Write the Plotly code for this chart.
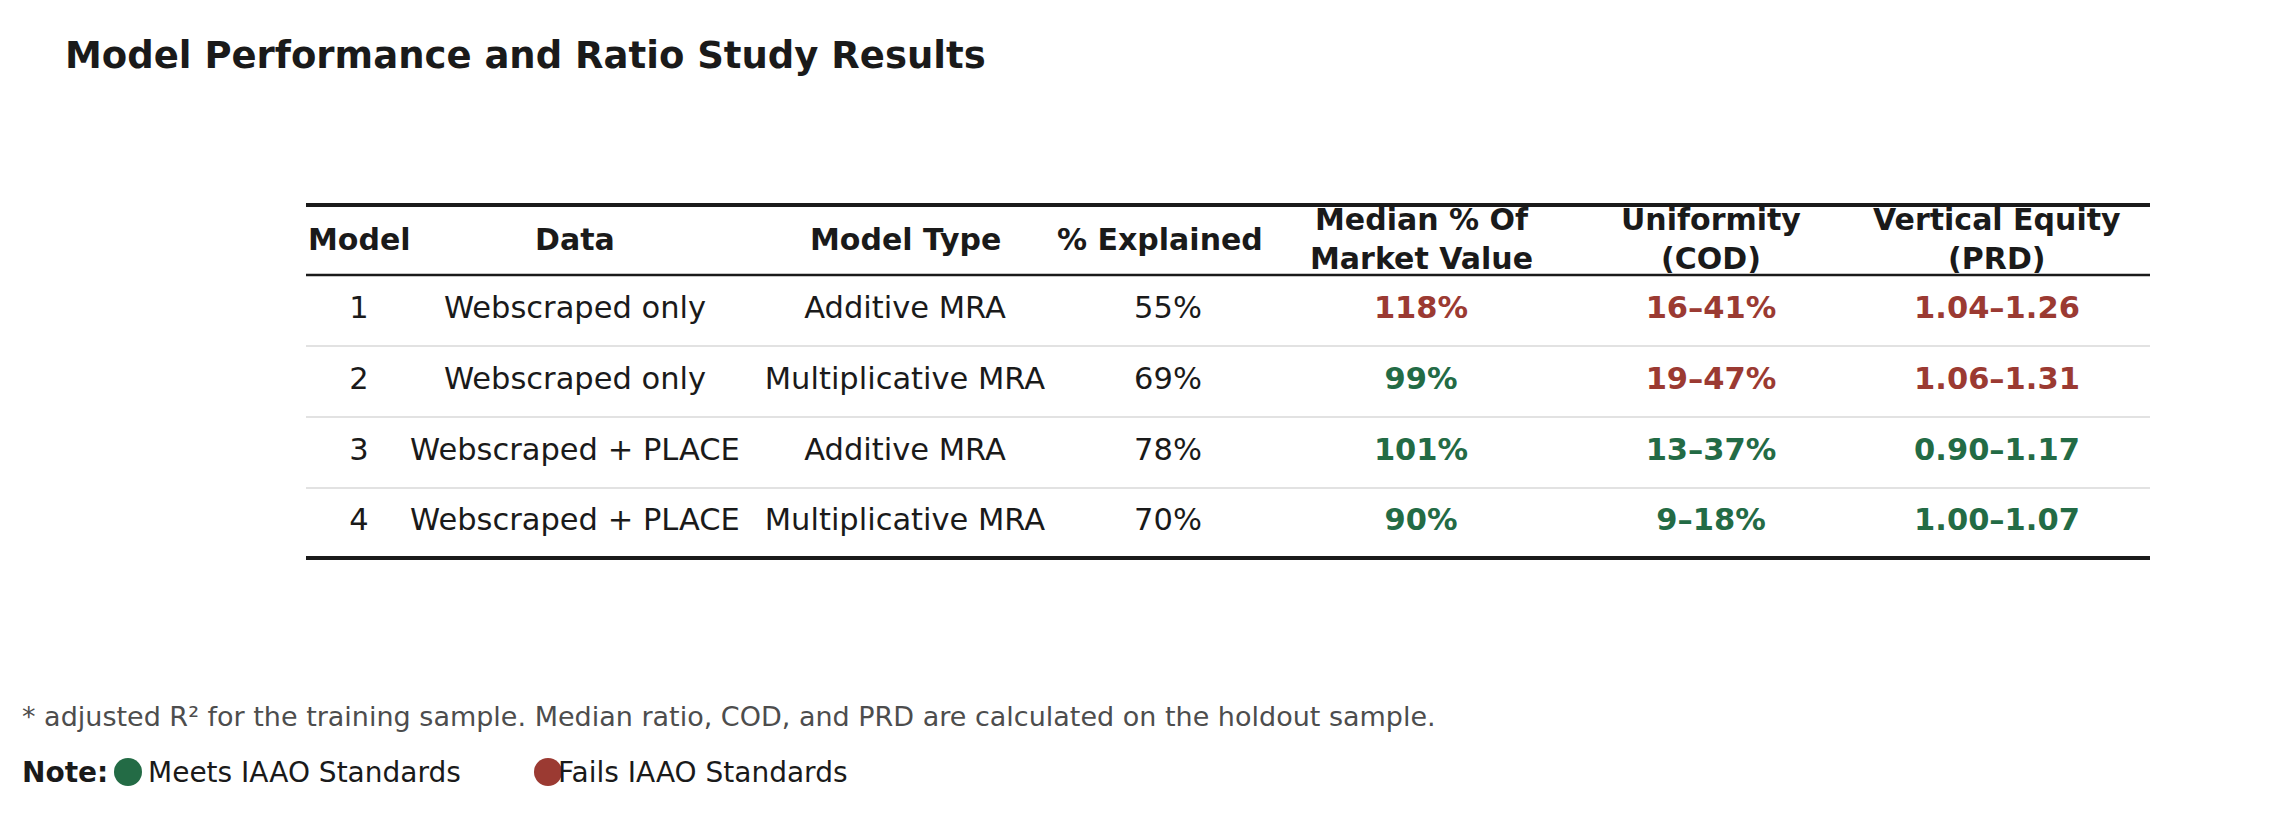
import plotly.graph_objects as go

models = ["1", "2", "3", "4"]
data_src = ["Webscraped only", "Webscraped only", "Webscraped + PLACE", "Webscraped + PLACE"]
model_type = ["Additive MRA", "Multiplicative MRA", "Additive MRA", "Multiplicative MRA"]
explained = ["55%", "69%", "78%", "70%"]
median_mv = ["118%", "99%", "101%", "90%"]
cod = ["16–41%", "19–47%", "13–37%", "9–18%"]
prd = ["1.04–1.26", "1.06–1.31", "0.90–1.17", "1.00–1.07"]
median_ok = [False, True, True, True]
cod_ok = [False, False, True, True]
prd_ok = [False, False, True, True]
headers = ["Model", "Data", "Model Type", "% Explained", "Median % Of<br>Market Value", "Uniformity<br>(COD)", "Vertical Equity<br>(PRD)"]

GREEN = "#236b45"
RED = "#9b3a32"
INK = "#1a1a1a"
FONT = "DejaVu Sans"

col_x = [351, 567, 897, 1160, 1413, 1703, 1989]
head_x = [351, 567, 897, 1152, 1413, 1703, 1989]
row_y = [302, 373, 444, 514]
head_y = 231
L, R = 298, 2142

fig = go.Figure()
cols = [models, data_src, model_type, explained, median_mv, cod, prd]
oks = [None, None, None, None, median_ok, cod_ok, prd_ok]
for i, (vals, ok) in enumerate(zip(cols, oks)):
    if ok is None:
        colors = [INK] * len(vals)
        texts = vals
    else:
        colors = [GREEN if o else RED for o in ok]
        texts = ["<b>%s</b>" % v for v in vals]
    fig.add_trace(go.Scatter(x=[col_x[i]] * len(vals), y=row_y, mode="text", text=texts,
                             textfont=dict(family=FONT, size=30.5, color=colors),
                             textposition="middle center", hoverinfo="skip", showlegend=False))

for h, x in zip(headers, head_x):
    fig.add_annotation(x=x, y=head_y, text="<b>%s</b>" % h, showarrow=False,
                       font=dict(family=FONT, size=30, color=INK), xanchor="center", yanchor="middle")

shapes = [
    dict(type="line", x0=L, x1=R, y0=197, y1=197, line=dict(color=INK, width=4)),
    dict(type="line", x0=L, x1=R, y0=267, y1=267, line=dict(color=INK, width=2.5)),
    dict(type="line", x0=L, x1=R, y0=550, y1=550, line=dict(color=INK, width=4)),
]
for y in [338, 409, 480]:
    shapes.append(dict(type="line", x0=L, x1=R, y0=y, y1=y, line=dict(color="#d9d9d9", width=1.5)))
shapes.append(dict(type="circle", x0=106, x1=134, y0=750, y1=778, fillcolor=GREEN, line=dict(width=0)))
shapes.append(dict(type="circle", x0=526, x1=554, y0=750, y1=778, fillcolor=RED, line=dict(width=0)))

fig.add_annotation(x=55, y=47, text="<b>Model Performance and Ratio Study Results</b>", showarrow=False,
                   xanchor="left", yanchor="middle", font=dict(family=FONT, size=37, color=INK))
fig.add_annotation(x=12, y=708, text="* adjusted R² for the training sample. Median ratio, COD, and PRD are calculated on the holdout sample.",
                   showarrow=False, xanchor="left", yanchor="middle", font=dict(family=FONT, size=27, color="#4d4d4d"))
fig.add_annotation(x=12, y=764, text="<b>Note:</b>", showarrow=False, xanchor="left", yanchor="middle",
                   font=dict(family=FONT, size=28, color=INK))
fig.add_annotation(x=138, y=764, text="Meets IAAO Standards", showarrow=False, xanchor="left", yanchor="middle",
                   font=dict(family=FONT, size=28, color=INK))
fig.add_annotation(x=548, y=764, text="Fails IAAO Standards", showarrow=False, xanchor="left", yanchor="middle",
                   font=dict(family=FONT, size=28, color=INK))

fig.update_layout(shapes=shapes, width=2274, height=813, margin=dict(l=0, r=0, t=0, b=0),
                  plot_bgcolor="white", paper_bgcolor="white",
                  xaxis=dict(range=[0, 2274], visible=False, fixedrange=True),
                  yaxis=dict(range=[813, 0], visible=False, fixedrange=True))
fig.write_html("out.html")
